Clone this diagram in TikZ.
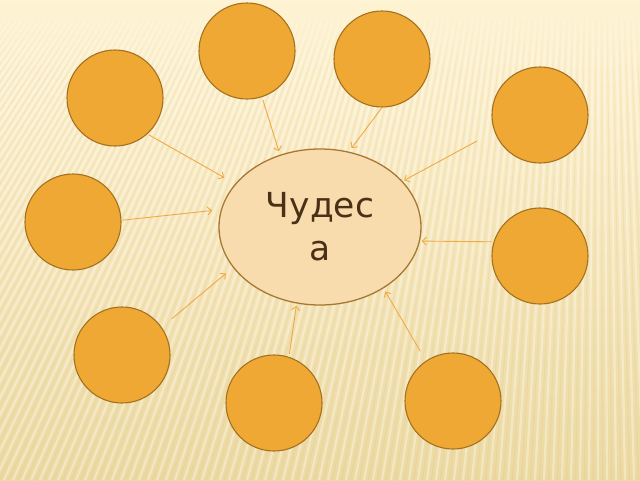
\documentclass[tikz,border=0pt]{standalone}
\usepackage{fontspec}
\newfontfamily\labelfont{DejaVu Sans}
\usetikzlibrary{arrows.meta,shapes.geometric,fadings}
\definecolor{bgtop}{HTML}{FEF3D2}
\definecolor{bgbot}{HTML}{ECD9A2}
\definecolor{discfill}{HTML}{F0A834}
\definecolor{discline}{HTML}{A4711F}
\definecolor{ovalfill}{HTML}{F9DCAE}
\definecolor{ovalline}{HTML}{A87832}
\definecolor{arrcol}{HTML}{F0AA44}
\definecolor{txtcol}{HTML}{4A3116}
\tikzset{
  disc/.style={circle, minimum size=96pt, inner sep=0pt, fill=discfill, draw=discline, line width=1.1pt},
  oval/.style={ellipse, minimum width=202pt, minimum height=156pt, inner sep=0pt, fill=ovalfill, draw=ovalline, line width=1.3pt,
     font=\labelfont\fontsize{34.5}{43}\selectfont, text=txtcol, align=center},
  arr/.style={draw=arrcol, line width=0.9pt, -{Straight Barb[length=4pt,width=8pt]}},
  stripe/.style={white, line width=2.2pt, opacity=0.35},
  dstripe/.style={brown!60!bgbot, line width=1.2pt, opacity=0.10}
}
\begin{document}
\begin{tikzpicture}[x=1pt,y=-1pt]
\useasboundingbox (0,0) rectangle (640,480);
% background
\shade[top color=bgtop, bottom color=bgbot] (0,0) rectangle (640,480);
\begin{scope}
  \clip (0,20) rectangle (640,480);
  \foreach \xb in {-500,-491,...,760} {
    \draw[stripe] (600,-800) -- (\xb,480);
    \draw[dstripe] (600,-800) -- (\xb+4.5,480);
  }
\end{scope}
\fill[bgtop, path fading=south] (0,0) rectangle (640,80);
% circles
\node[disc] (c1) at (247,51) {};
\node[disc] (c2) at (382,59) {};
\node[disc] (c3) at (115,98) {};
\node[disc] (c4) at (540,115) {};
\node[disc] (c5) at (73,222) {};
\node[disc] (c6) at (540,256) {};
\node[disc] (c7) at (122,355) {};
\node[disc] (c8) at (274,403) {};
\node[disc] (c9) at (453,401) {};
% central oval
\node[oval] (e) at (320,227) {Чудес\\а};
% arrows
\draw[arr, shorten <=2.6pt, shorten >=3.6pt] (c1.-72) -- (e.119);
\draw[arr, shorten >=4.4pt] (c2.-90) -- (e.69.2);
\draw[arr, shorten <=1.6pt, shorten >=12.5pt] (c3.-48) -- (e.153);
\draw[arr, shorten <=20pt, shorten >=1.7pt] (c4.-160) -- (e.29.5);
\draw[arr, shorten <=1pt, shorten >=8.8pt] (c5.2) -- (e.170);
\draw[arr, shorten <=2pt, shorten >=1.8pt] (c6.163.7) -- (e.-8.6);
\draw[arr, shorten <=13pt, shorten >=9.2pt] (c7.35) -- (e.-155);
\draw[arr, shorten <=3pt, shorten >=2.2pt] (c8.72) -- (e.-107);
\draw[arr, shorten <=11pt, shorten >=3.7pt] (c9.124) -- (e.-44.6);
\end{tikzpicture}
\end{document}
